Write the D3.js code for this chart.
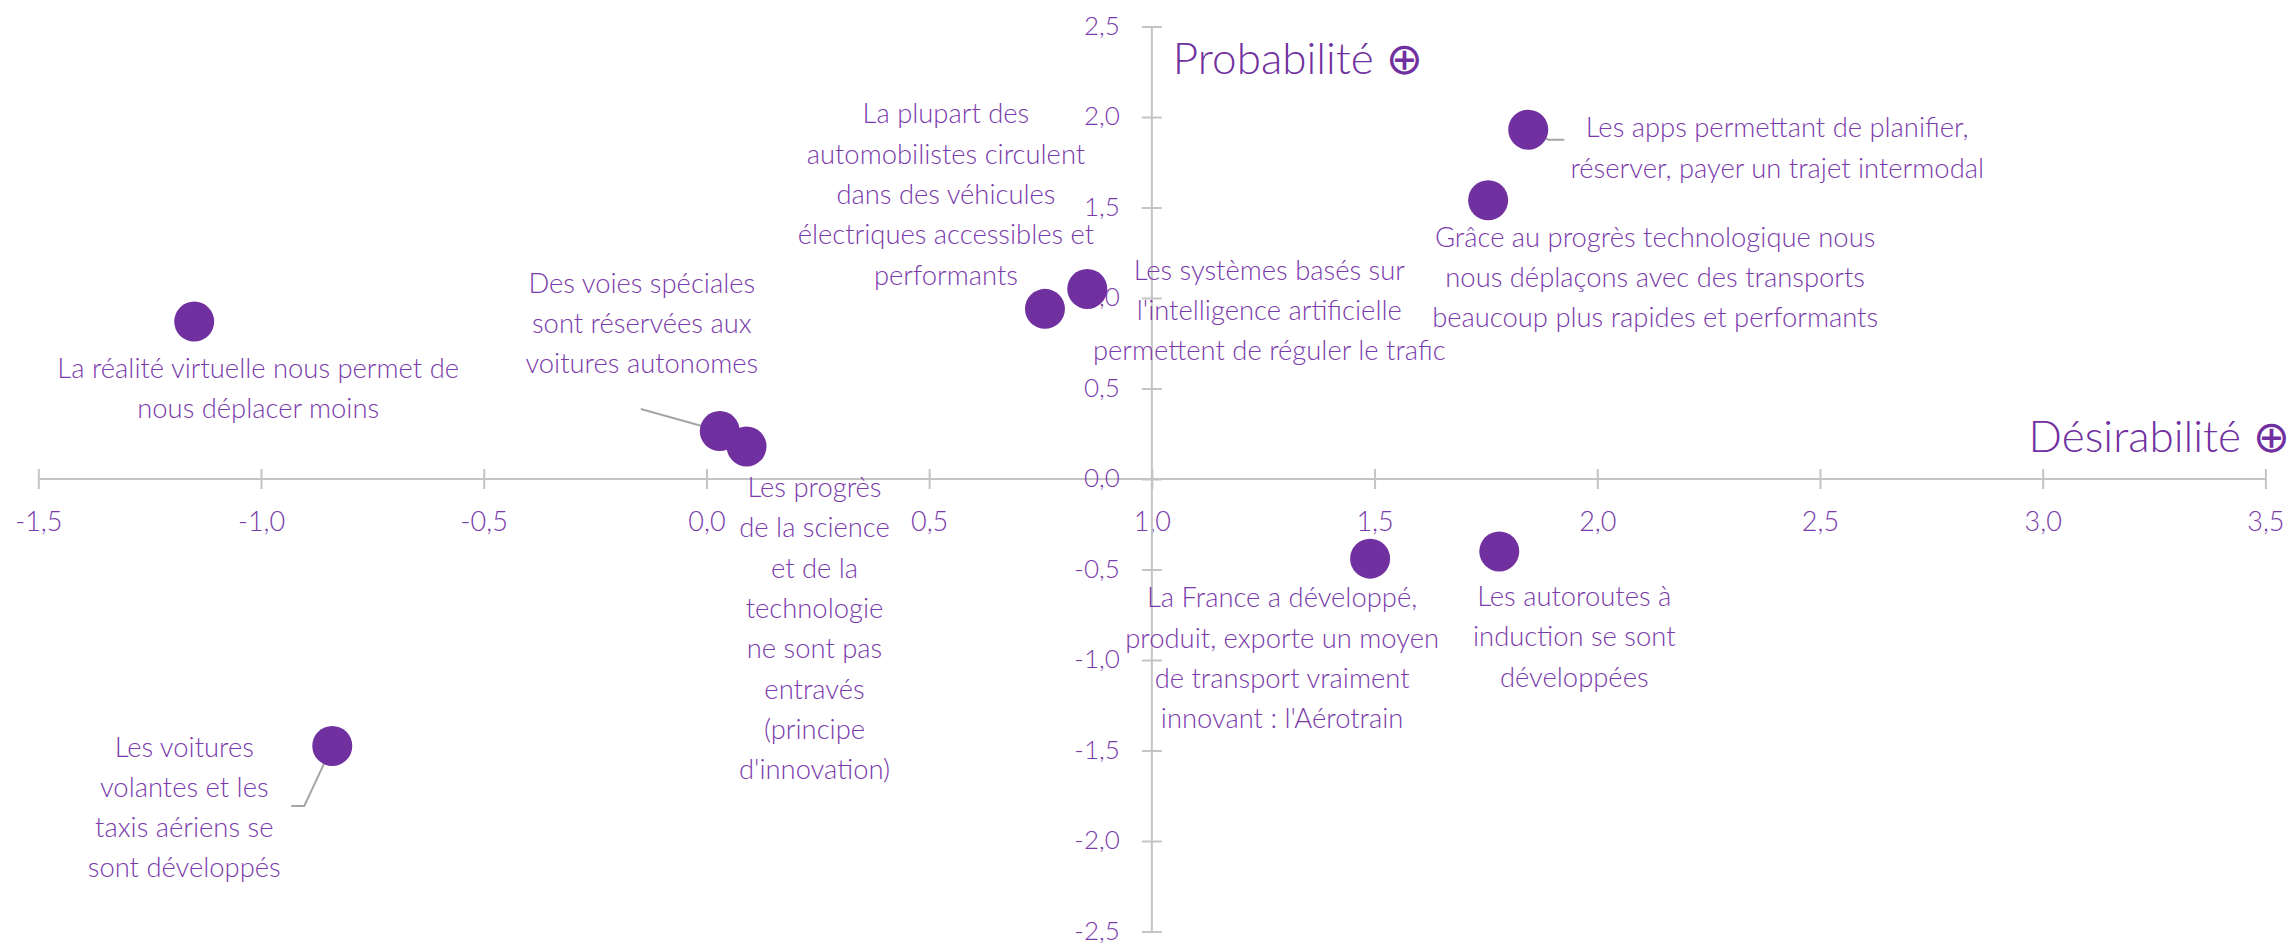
<!DOCTYPE html>
<html lang="fr">
<head>
<meta charset="utf-8">
<title>Probabilité / Désirabilité</title>
<script src="https://cdn.jsdelivr.net/npm/d3@7"></script>
<style>
  html, body { margin: 0; padding: 0; background: #ffffff; }
  svg { display: block; }
  .lbl, .tick text { font-family: "Futura", "Lato", "Noto Sans", sans-serif; font-weight: 300; }
</style>
</head>
<body>
<svg id="chart" width="2295" height="945"></svg>
<script>
// Scenario statements (one line per array entry)
const statements = [
  ["La réalité virtuelle nous permet de", "nous déplacer moins"],
  ["Des voies spéciales", "sont réservées aux", "voitures autonomes"],
  ["Les progrès", "de la science", "et de la", "technologie", "ne sont pas", "entravés", "(principe", "d'innovation)"],
  ["La plupart des", "automobilistes circulent", "dans des véhicules", "électriques accessibles et", "performants"],
  ["Les systèmes basés sur", "l'intelligence artificielle", "permettent de réguler le trafic"],
  ["Les apps permettant de planifier,", "réserver, payer un trajet intermodal"],
  ["Grâce au progrès technologique nous", "nous déplaçons avec des transports", "beaucoup plus rapides et performants"],
  ["La France a développé,", "produit, exporte un moyen", "de transport vraiment", "innovant : l'Aérotrain"],
  ["Les autoroutes à", "induction se sont", "développées"],
  ["Les voitures", "volantes et les", "taxis aériens se", "sont développés"]
];

// Désirabilité score of each statement
const desirability = [-1.15, 0.03, 0.09, 0.76, 0.855, 1.845, 1.755, 1.49, 1.78, -0.84];

// Probabilité score of each statement
const probability = [0.87, 0.265, 0.18, 0.94, 1.05, 1.93, 1.54, -0.44, -0.40, -1.475];

// Axis ticks
const xTicks = [-1.5, -1.0, -0.5, 0.0, 0.5, 1.0, 1.5, 2.0, 2.5, 3.0, 3.5];
const yTicks = [-2.5, -2.0, -1.5, -1.0, -0.5, 0.0, 0.5, 1.0, 1.5, 2.0, 2.5];

const xTitle = "Désirabilité ⊕";
const yTitle = "Probabilité ⊕";

// Label placement relative to each point (px): text centre offset and optional leader elbow
const labelLayout = [
  { dx: 64, dy: 47 },
  { dx: -78, dy: -148, leader: [[-79, -22]] },
  { dx: 68, dy: 41 },
  { dx: -99, dy: -195 },
  { dx: 182, dy: -19 },
  { dx: 249, dy: -2, leader: [[20, 10], [36, 10]] },
  { dx: 167, dy: 37 },
  { dx: -88, dy: 39 },
  { dx: 75, dy: 45 },
  { dx: -148, dy: 1, leader: [[-28, 60], [-41, 60]] }
];

const PURPLE = "#7030a0";
const TEXT = "#7a3bab";
const GREY = "#c4c4c4";
const lineGap = 40.3;

const svg = d3.select("#chart");

const x = d3.scaleLinear().domain([-1.5, 3.5]).range([38.3, 2265.4]);
const y = d3.scaleLinear().domain([-2.5, 2.5]).range([931.5, 26.5]);

const fmt = v => d3.format(".1f")(v).replace(".", ",").replace("−", "-");

// Horizontal axis through Probabilité = 0
const gx = svg.append("g")
  .attr("transform", `translate(0,${y(0)})`)
  .call(d3.axisBottom(x).tickValues(xTicks).tickFormat(fmt).tickSize(10).tickPadding(31));
gx.select(".domain").attr("stroke", GREY).attr("stroke-width", 2).attr("d", `M${x(-1.5)},0H${x(3.5)}`);
gx.selectAll(".tick line").attr("stroke", GREY).attr("stroke-width", 2).attr("y1", -10).attr("y2", 10);
gx.selectAll(".tick text").attr("fill", TEXT).attr("font-size", 27).attr("dy", "0.32em").attr("y", 43);

// Vertical axis through Désirabilité = 1
const gy = svg.append("g")
  .attr("transform", `translate(${x(1)},0)`)
  .call(d3.axisLeft(y).tickValues(yTicks).tickFormat(fmt).tickSize(10).tickPadding(22));
gy.select(".domain").attr("stroke", GREY).attr("stroke-width", 2).attr("d", `M0,${y(2.5)}V${y(-2.5)}`);
gy.selectAll(".tick line").attr("stroke", GREY).attr("stroke-width", 2).attr("x1", -10).attr("x2", 10);
gy.selectAll(".tick text").attr("fill", TEXT).attr("font-size", 26).attr("x", -32).attr("dy", "0.3em");

// Axis titles
svg.append("text").attr("class", "lbl")
  .attr("x", x(1) + 21).attr("y", 74)
  .attr("fill", PURPLE).attr("font-size", 44).attr("font-weight", 400)
  .text(yTitle);
svg.append("text").attr("class", "lbl")
  .attr("x", 2290).attr("y", y(0) - 27).attr("text-anchor", "end")
  .attr("fill", PURPLE).attr("font-size", 44).attr("font-weight", 400)
  .text(xTitle);

const points = statements.map((lines, i) => ({
  lines, px: x(desirability[i]), py: y(probability[i]), lay: labelLayout[i]
}));

// Leader lines
svg.append("g").selectAll("path")
  .data(points.filter(d => d.lay.leader))
  .join("path")
  .attr("fill", "none").attr("stroke", "#a6a6a6").attr("stroke-width", 2)
  .attr("d", d => "M" + [[0, 0], ...d.lay.leader].map(([a, b]) => `${d.px + a},${d.py + b}`).join("L"));

// Points
svg.append("g").selectAll("circle")
  .data(points)
  .join("circle")
  .attr("cx", d => d.px).attr("cy", d => d.py).attr("r", 20)
  .attr("fill", PURPLE);

// Labels
const lbl = svg.append("g").selectAll("text")
  .data(points)
  .join("text")
  .attr("class", "lbl")
  .attr("fill", TEXT).attr("font-size", 27.4).attr("text-anchor", "middle");
lbl.selectAll("tspan")
  .data(d => d.lines.map((t, k) => ({ t, k, d })))
  .join("tspan")
  .attr("x", o => o.d.px + o.d.lay.dx)
  .attr("y", o => o.d.py + o.d.lay.dy + o.k * lineGap)
  .attr("dy", "0.35em")
  .text(o => o.t);
</script>
</body>
</html>
